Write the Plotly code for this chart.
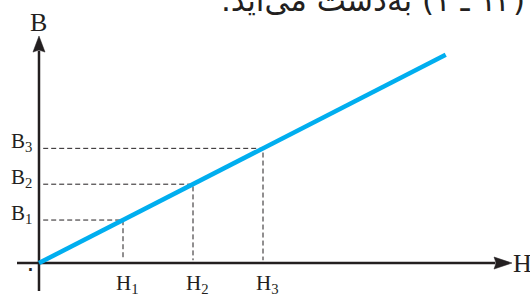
import plotly.graph_objects as go

# ---- data (units: H along x, B along y) ----
H_points = [1.2, 2.2, 3.2]
B_points = [0.614, 1.126, 1.638]
H_labels = ["H<sub>1</sub>", "H<sub>2</sub>", "H<sub>3</sub>"]
B_labels = ["B<sub>1</sub>", "B<sub>2</sub>", "B<sub>3</sub>"]
line_H = [0.0, 5.81]
line_B = [0.0, 2.975]
zero_label = "۰"
caption = "\u200fشکل (۱۳ ـ ۱) به\u200cدست می\u200cآید.\u200f"

# ---- layout constants ----
X_RANGE = [-0.557, 7.014]
Y_RANGE = [-0.471, 3.757]
AX_COLOR = "#231f20"
BLUE = "#00aeef"
SERIF = "Liberation Serif, Times New Roman, serif"

fig = go.Figure()

# dashed guide lines
for h, b in zip(H_points, B_points):
    fig.add_trace(go.Scatter(
        x=[0.06, h, h], y=[b, b, 0.04], mode="lines",
        line=dict(color=AX_COLOR, width=1, dash="5px,3px"),
        hoverinfo="skip", showlegend=False))

# B-H line
fig.add_trace(go.Scatter(
    x=line_H, y=line_B, mode="lines",
    line=dict(color=BLUE, width=4.5), hoverinfo="skip", showlegend=False))

shapes = []
# x axis line + arrowhead
x_tail, x_tip = -0.314, 6.757
alen, ahw = 0.257, 0.086
shapes.append(dict(type="line", x0=x_tail, x1=x_tip - alen + 0.02, y0=0, y1=0,
                   line=dict(color=AX_COLOR, width=2.5), layer="below"))
shapes.append(dict(type="path",
                   path=f"M{x_tip},0 L{x_tip-alen},{ahw} L{x_tip-alen+0.03},0 L{x_tip-alen},{-ahw} Z",
                   fillcolor=AX_COLOR, line=dict(color=AX_COLOR, width=0.5)))
# y axis line + arrowhead
y_tail, y_tip = -0.4, 3.243
alen_y = 0.23
shapes.append(dict(type="line", x0=0, x1=0, y0=y_tail, y1=y_tip - alen_y + 0.02,
                   line=dict(color=AX_COLOR, width=2.5), layer="below"))
shapes.append(dict(type="path",
                   path=f"M0,{y_tip} L{ahw},{y_tip-alen_y} L0,{y_tip-alen_y+0.03} L{-ahw},{y_tip-alen_y} Z",
                   fillcolor=AX_COLOR, line=dict(color=AX_COLOR, width=0.5)))

annotations = []
for h, lab in zip(H_points, H_labels):
    annotations.append(dict(x=h, y=0, xref="x", yref="y", text=lab, showarrow=False,
                            xanchor="center", yanchor="top", xshift=4, yshift=-6,
                            font=dict(family=SERIF, size=21, color=AX_COLOR)))
for b, lab in zip(B_points, B_labels):
    annotations.append(dict(x=0, y=b, xref="x", yref="y", text=lab, showarrow=False,
                            xanchor="right", yanchor="middle", xshift=-5, yshift=6,
                            font=dict(family=SERIF, size=21, color=AX_COLOR)))
annotations.append(dict(x=0, y=y_tip, xref="x", yref="y", text="B", showarrow=False,
                        xanchor="center", yanchor="bottom", yshift=-3,
                        font=dict(family=SERIF, size=26, color=AX_COLOR)))
annotations.append(dict(x=x_tip, y=0, xref="x", yref="y", text="H", showarrow=False,
                        xanchor="left", yanchor="middle", xshift=-1,
                        font=dict(family=SERIF, size=26, color=AX_COLOR)))
annotations.append(dict(x=0, y=0, xref="x", yref="y", text=zero_label, showarrow=False,
                        xanchor="center", yanchor="middle", xshift=-8, yshift=-5,
                        font=dict(family="DejaVu Sans", size=24, color=AX_COLOR)))
annotations.append(dict(x=2.571, y=1, xref="x", yref="paper", text=caption, showarrow=False,
                        xanchor="left", yanchor="bottom", yshift=-20,
                        font=dict(family="DejaVu Sans", size=31, color=AX_COLOR)))

fig.update_layout(
    width=530, height=296, margin=dict(l=0, r=0, t=0, b=0),
    paper_bgcolor="white", plot_bgcolor="white",
    xaxis=dict(range=X_RANGE, visible=False, fixedrange=True),
    yaxis=dict(range=Y_RANGE, visible=False, fixedrange=True),
    shapes=shapes, annotations=annotations, showlegend=False)

fig.write_html("out.html", config={"displayModeBar": False},
               post_script="document.body.style.margin='0px';document.body.style.overflow='hidden';")
